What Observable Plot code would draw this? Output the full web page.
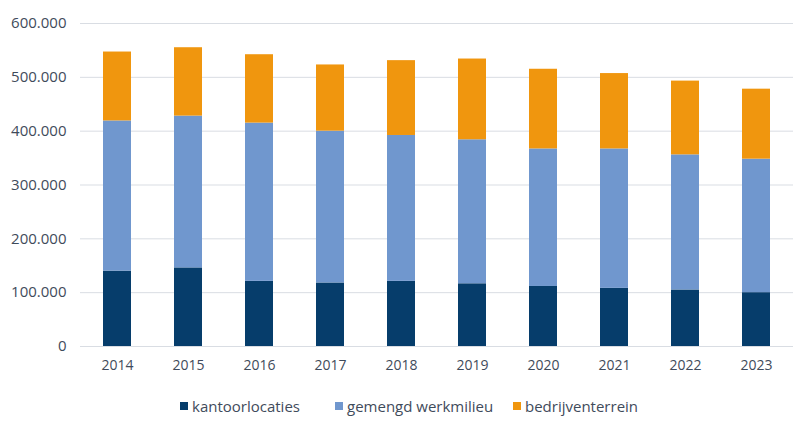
<!DOCTYPE html>
<html>
<head>
<meta charset="utf-8">
<script src="https://cdn.jsdelivr.net/npm/d3@7"></script>
<script src="https://cdn.jsdelivr.net/npm/@observablehq/plot@0.6"></script>
<style>
  html, body { margin: 0; padding: 0; background: #fff; }
  #chart { position: relative; width: 799px; height: 422px; font-family: "Open Sans", sans-serif; }
  .legend { position: absolute; top: 396px; left: 0; width: 799px; height: 20px; font-size: 15px; color: #3f4b5b; }
  .item { position: absolute; top: 0; display: flex; align-items: center; line-height: 20px; white-space: nowrap; }
  .sw { width: 8px; height: 8px; margin-right: 4px; display: inline-block; }
</style>
</head>
<body>
<div id="chart"></div>
<script>
const years = ["2014","2015","2016","2017","2018","2019","2020","2021","2022","2023"];
const series = ["kantoorlocaties","gemengd werkmilieu","bedrijventerrein"];
const kantoorlocaties = [140000,146000,121000,118000,121000,116500,111500,108000,105000,100000];
const gemengdWerkmilieu = [279000,282000,294000,282000,271000,267500,255500,259000,251000,248000];
const bedrijventerrein = [128000,127000,127000,123000,139000,150000,148000,140000,137000,130000];
const colors = ["#063d6b","#7097ce","#f0960e"];
const yTicks = [0,100000,200000,300000,400000,500000,600000];

const valuesBySeries = [kantoorlocaties, gemengdWerkmilieu, bedrijventerrein];
const data = [];
series.forEach((s, i) => years.forEach((y, j) => data.push({year: y, series: s, value: valuesBySeries[i][j]})));

const fmt = d => d3.format(",")(d).replace(/,/g, ".");

const plot = Plot.plot({
  width: 799,
  height: 380,
  marginTop: 23,
  marginBottom: 34,
  marginLeft: 80,
  marginRight: 6,
  style: {fontFamily: "Open Sans, sans-serif", fontSize: "14px", color: "#3f4b5b", background: "#fff"},
  x: {domain: years, paddingInner: 0.6, paddingOuter: 0.32, label: null},
  y: {domain: [0, 600000], label: null},
  color: {domain: series, range: colors},
  marks: [
    Plot.ruleY(yTicks, {stroke: "#d9dde3", strokeWidth: 1}),
    Plot.barY(data, {x: "year", y: "value", fill: "series", order: series}),
    Plot.axisX({tickSize: 0, tickPadding: 14, fontSize: 14, fill: "#3f4b5b"}),
    Plot.axisY({ticks: yTicks, tickFormat: fmt, tickSize: 0, tickPadding: 14, fontSize: 15, fill: "#3f4b5b"})
  ]
});
const chart = document.getElementById("chart");
chart.appendChild(plot);

const legend = document.createElement("div");
legend.className = "legend";
const lefts = [180, 335, 513];
series.forEach((s, i) => {
  const it = document.createElement("div");
  it.className = "item";
  it.style.left = lefts[i] + "px";
  const sw = document.createElement("span");
  sw.className = "sw";
  sw.style.background = colors[i];
  const t = document.createElement("span");
  t.textContent = s;
  it.appendChild(sw); it.appendChild(t);
  legend.appendChild(it);
});
chart.appendChild(legend);
</script>
</body>
</html>
